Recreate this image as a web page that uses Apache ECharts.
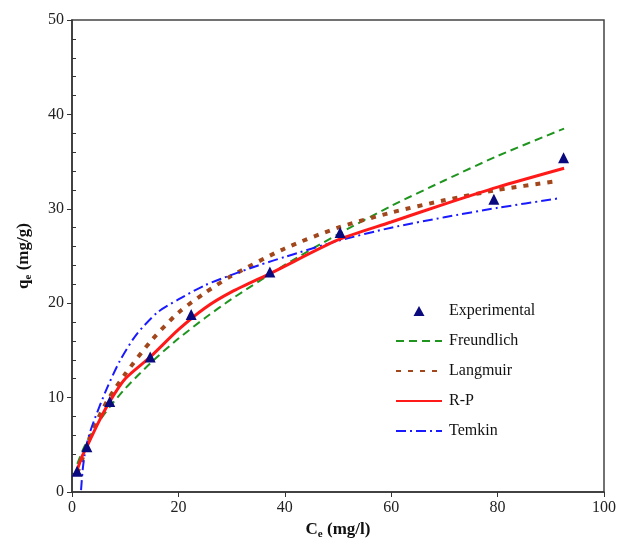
<!DOCTYPE html>
<html>
<head>
<meta charset="utf-8">
<script src="https://cdn.jsdelivr.net/npm/echarts@6/dist/echarts.min.js"></script>
<style>
html,body{margin:0;padding:0;background:#fff;}
#chart{width:621px;height:551px;}
</style>
</head>
<body>
<div id="chart"></div>
<script>
// 实验点
var expX = [0.95, 2.8, 7.1, 14.7, 22.4, 37.2, 50.4, 79.3, 92.4];
var expY = [2.2, 4.8, 9.6, 14.3, 18.8, 23.3, 27.5, 31.0, 35.4];

// 拟合曲线
var freX = [1, 2, 3, 5, 7, 10, 15, 20, 25, 30, 40, 50, 60, 70, 80, 92.5];
var freY = [2.97, 4.40, 5.54, 7.40, 8.95, 10.96, 13.79, 16.25, 18.43, 20.44, 24.05, 27.3, 30.3, 33.0, 35.6, 38.5];

var lanX = [1, 2, 3, 5, 7, 10, 15, 20, 25, 30, 40, 50, 60, 70, 80, 90.8];
var lanY = [2.0, 3.6, 5.3, 7.9, 10.0, 12.5, 16.1, 19.0, 21.1, 22.9, 25.8, 28.0, 29.6, 30.9, 32.0, 32.9];

var rpX = [0.8, 1.2, 2, 2.8, 5, 7.1, 10, 14.7, 20, 25, 30, 37.8, 50, 60, 70, 80, 92.5];
var rpY = [2.0, 2.7, 3.9, 4.8, 7.4, 9.6, 12.0, 14.3, 17.2, 19.5, 21.2, 23.3, 26.7, 28.6, 30.5, 32.3, 34.3];

var temX = [1.7, 2.0, 2.4, 3.2, 4.3, 6.5, 9, 12, 16, 20, 25, 30, 35, 40, 50, 60, 70, 80, 91.4];
var temY = [0.2, 2.3, 4.0, 6.0, 7.8, 10.9, 13.9, 16.6, 19.0, 20.4, 21.9, 23.0, 24.0, 24.9, 26.6, 28.0, 29.1, 30.1, 31.1];

function pairs(xs, ys){
    var out = [];
    for(var i=0;i<xs.length;i++){ out.push([xs[i], ys[i]]); }
    return out;
}

var font = '"Liberation Serif", "Times New Roman", serif';
var axisColor = '#333';
var nameRich = {
    b: { fontFamily: font, fontSize: 17, fontWeight: 'bold', color: '#111' },
    s: { fontFamily: font, fontSize: 11, fontWeight: 'bold', color: '#111', padding: [10, 0, 0, 0] }
};

function curve(name, xs, ys, color, width, type, z){
    return {
        name: name, type: 'line', smooth: 0.25,
        showSymbol: false, symbol: 'none',
        lineStyle: { color: color, width: width, type: type },
        itemStyle: { color: color },
        data: pairs(xs, ys), z: z
    };
}

var myChart = echarts.init(document.getElementById('chart'));
var option = {
    backgroundColor: '#fff',
    animation: false,
    grid: {
        left: 72, right: 17, top: 20, bottom: 59,
        show: true, borderColor: '#444', borderWidth: 1.5
    },
    legend: {
        orient: 'vertical',
        left: 395, top: 303, padding: 0,
        itemWidth: 46, itemHeight: 10, itemGap: 14,
        symbolKeepAspect: true,
        textStyle: { fontFamily: font, fontSize: 16, color: '#111', padding: [0, 0, 0, 2] },
        data: [
            { name: 'Experimental', icon: 'path://M0,10 L5.5,0 L11,10 Z', itemStyle: { opacity: 1 } },
            { name: 'Freundlich', itemStyle: { opacity: 0 } },
            { name: 'Langmuir', itemStyle: { opacity: 0 } },
            { name: 'R-P', itemStyle: { opacity: 0 } },
            { name: 'Temkin', itemStyle: { opacity: 0 } }
        ]
    },
    xAxis: {
        type: 'value', min: 0, max: 100, interval: 20,
        name: '{b|C}{s|e}{b| (mg/l)}',
        nameLocation: 'middle', nameGap: 23,
        nameTextStyle: { rich: nameRich },
        axisLine: { lineStyle: { color: axisColor, width: 1.5 } },
        axisTick: { inside: false, length: 5, lineStyle: { color: axisColor } },
        axisLabel: { fontFamily: font, fontSize: 16, color: '#222', margin: 8 },
        splitLine: { show: false }
    },
    yAxis: {
        type: 'value', min: 0, max: 50, interval: 10,
        name: '{b|q}{s|e}{b| (mg/g)}',
        nameLocation: 'middle', nameGap: 38, nameRotate: 90,
        nameTextStyle: { rich: nameRich },
        axisLine: { lineStyle: { color: axisColor, width: 1.5 } },
        axisTick: { inside: false, length: 5, lineStyle: { color: axisColor } },
        minorTick: { show: true, splitNumber: 5, length: -4, lineStyle: { color: axisColor } },
        axisLabel: { fontFamily: font, fontSize: 16, color: '#222', margin: 8 },
        splitLine: { show: false }
    },
    series: [
        curve('Freundlich', freX, freY, '#1f951f', 2, [8, 5], 2),
        curve('Langmuir', lanX, lanY, '#a2461c', 4, [5, 7], 2),
        curve('R-P', rpX, rpY, '#ff1a1a', 3, 'solid', 3),
        curve('Temkin', temX, temY, '#1a1aff', 2, [10, 4, 2, 4], 2),
        {
            name: 'Experimental', type: 'scatter',
            symbol: 'triangle', symbolSize: 11,
            itemStyle: { color: '#0a0a7e', opacity: 1 },
            data: pairs(expX, expY), z: 5
        }
    ]
};
myChart.setOption(option);
</script>
</body>
</html>
